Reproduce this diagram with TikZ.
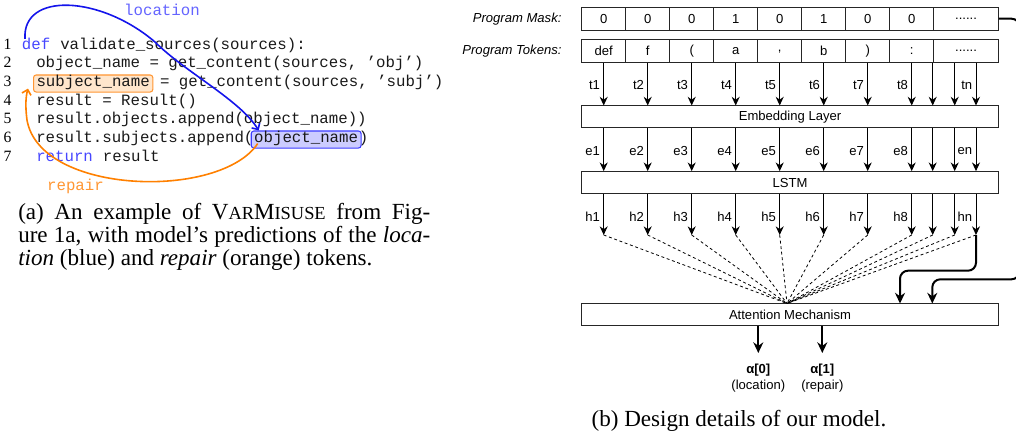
\documentclass[tikz,border=0pt]{standalone}
\usepackage{fontspec}
\setmainfont{Liberation Serif}
\newfontfamily\hvfont{Liberation Sans}
\newfontfamily\courfont{Liberation Mono}
\usetikzlibrary{arrows.meta,calc}
\definecolor{kwblue}{RGB}{70,70,255}
\definecolor{loclab}{RGB}{100,100,255}
\definecolor{locarrow}{RGB}{20,20,235}
\definecolor{reparrow}{RGB}{255,128,0}
\definecolor{replab}{RGB}{255,150,50}
\definecolor{subjfill}{RGB}{255,230,204}
\definecolor{subjdraw}{RGB}{255,150,50}
\definecolor{objfill}{RGB}{204,204,255}
\definecolor{objdraw}{RGB}{60,60,255}
\begin{document}
\begin{tikzpicture}[x=0.75pt,y=-0.75pt,
 code/.style={inner sep=0pt, anchor=base west, text=black!90, font=\courfont\fontsize{11.8}{14}\selectfont},
 lnum/.style={inner sep=0pt, anchor=base, font=\fontsize{11.8}{14}\selectfont},
 hl/.style={code, inner xsep=2.25pt, inner ysep=1.5pt, text height=7pt, text depth=2.8pt, rounded corners=2pt, line width=0.8pt},
 cell/.style={draw=black!85, line width=0.75pt, minimum width=33pt, minimum height=17pt, inner sep=0pt, font=\hvfont\fontsize{9.8}{12}\selectfont},
 layer/.style={draw=black!85, line width=0.75pt, minimum width=312.45pt, minimum height=16.3pt, inner sep=0pt, font=\hvfont\fontsize{9.8}{12}\selectfont},
 lab/.style={inner sep=0pt, anchor=east, font=\hvfont\fontsize{9.8}{12}\selectfont},
 rowlab/.style={inner sep=0pt, anchor=east, font=\hvfont\itshape\fontsize{9.8}{12}\selectfont},
 outlab/.style={inner sep=0pt, anchor=center, font=\hvfont\fontsize{9.8}{12}\selectfont},
 arr/.style={line width=0.75pt, -{Stealth[length=6.5pt,width=6pt]}},
 bigarr/.style={line width=1.5pt, rounded corners=6pt, -{Stealth[length=8pt,width=7.5pt]}},
 attline/.style={dash pattern=on 2.2pt off 2pt, line width=0.6pt},
 capt/.style={inner sep=0pt, font=\fontsize{17.3}{17.25}\selectfont},
 predarr/.style={line width=1.2pt, -{Straight Barb[length=3.5pt,width=7pt]}}
]
\useasboundingbox (0,0) rectangle (1016,433);
\clip (0,0) rectangle (1016,433);

% ---------------- code (a) ----------------
\node[lnum] (n1) at (7.5,49) {1};
\node[lnum] (n2) at (7.5,67.7) {2};
\node[lnum] (n3) at (7.5,86.3) {3};
\node[lnum] (n4) at (7.5,105) {4};
\node[lnum] (n5) at (7.5,123.7) {5};
\node[lnum] (n6) at (7.5,142.3) {6};
\node[lnum] (n7) at (7.5,161) {7};

\node[code, text=kwblue] (kwdef) at (21.7,49) {def};
\node[code] (l1) at (kwdef.base east) {\ validate\_sources(sources):};
\node[code] (l2) at (36,67.7) {object\_name = get\_content(sources, ’obj’)};
\node[hl, fill=subjfill, draw=subjdraw] (subjbox) at (33,86.3) {subject\_name};
\node[code] (l3) at ([xshift=-2.25pt]subjbox.base east) {\ = get\_content(sources, ’subj’)};
\node[code] (l4) at (36,105) {result = Result()};
\node[code] (l5) at (36,123.7) {result.objects.append(object\_name))};
\node[code] (l6) at (36,142.3) {result.subjects.append(};
\node[hl, fill=objfill, draw=objdraw] (objbox) at ([xshift=-2.25pt]l6.base east) {object\_name};
\node[code] (l6b) at ([xshift=-2.25pt]objbox.base east) {)};
\node[code, text=kwblue] (kwret) at (36,161) {return};
\node[code] (l7) at (kwret.base east) {\ result};

\node[code, anchor=center, text=loclab] (loclabel) at (162,9.5) {location};
\node[code, anchor=center, text=replab] (replabel) at (75.5,186.5) {repair};

\coordinate (bstart) at ($(kwdef.north west)+(3.3,1.5)$);
\coordinate (bend) at ($(objbox.north west)+(8,0)$);
\draw[predarr, locarrow] (bstart) .. controls (22,-8) and (100,-5) .. (155,42)
   .. controls (185,72) and (240,100) .. (bend);
\coordinate (ostart) at ($(objbox.south west)+(7,-5)$);
\coordinate (oend) at ($(subjbox.south west)+(-5,-4)$);
\draw[predarr, reparrow] (ostart) .. controls (220,200) and (40,195) .. (27,120)
   .. controls (25,105) and (26,96) .. (oend);

% caption (a)
\node[capt, anchor=base west] (capa1) at (18,219.5) {\makebox[309pt][s]{(a) An example of V{\fontsize{13.8}{14}\selectfont AR}M{\fontsize{13.8}{14}\selectfont ISUSE} from Fig-}};
\node[capt, anchor=base west] (capa2) at (18,242.8) {\makebox[309pt][s]{ure 1a, with model’s predictions of the \textit{loca-}}};
\node[capt, anchor=base west] (capa3) at (18,265.6) {\textit{tion} (blue) and \textit{repair} (orange) tokens.};

% ---------------- model (b) ----------------
\node[rowlab] (masklab) at (561.7,18.7) {Program Mask:};
\node[rowlab] (toklab) at (561.7,51.2) {Program Tokens:};

\foreach \v [count=\i from 0] in {0,0,0,1,0,1,0,0}
  \node[cell] (m\i) at ({603.7+44*\i},18.7) {\v};
\node[cell, minimum width=48.45pt] (m8) at (966,18.7) {......};

\node[cell] (t0) at (603.7,51.2) {def};
\node[cell] (t1) at (647.7,51.2) {f};
\node[cell] (t2) at (691.7,51.2) {(};
\node[cell] (t3) at (735.7,51.2) {a};
\node[cell] (t4) at (779.7,51.2) {,};
\node[cell] (t5) at (823.7,51.2) {b};
\node[cell] (t6) at (867.7,51.2) {)};
\node[cell] (t7) at (911.7,51.2) {:};
\node[cell, minimum width=48.45pt] (t8) at (966,51.2) {......};

\node[layer] (emb) at (790,116.85) {Embedding Layer};
\node[layer] (lstm) at (790,182.5) {LSTM};
\node[layer] (att) at (790,314.85) {Attention Mechanism};

\coordinate (conv) at ($(att.north)+(-3,0)$);
\foreach \x [count=\i] in {603.7,647.7,691.7,735.7,779.7,823.7,867.7,911.7,932.7,954.7,976} {
  \coordinate (c\i) at (\x,0);
  \coordinate (hend\i) at (\x,235);
  \draw[arr] (c\i |- t0.south) -- (c\i |- emb.north);
  \draw[arr] (c\i |- emb.south) -- (c\i |- lstm.north);
  \draw[arr] (c\i |- lstm.south) -- (hend\i);
  \draw[attline] (hend\i) -- (conv);
}
\foreach \x/\l in {603.7/1,647.7/2,691.7/3,735.7/4,779.7/5,823.7/6,867.7/7,911.7/8,976/n} {
  \node[lab] at (\x-3.5,85) {t\l};
  \node[lab] at (\x-3.5,151) {e\l};
  \node[lab] at (\x-3.5,216.7) {h\l};
}

\coordinate (in1) at (900,0);
\coordinate (in2) at (932.3,0);
\coordinate (rail) at (1019.5,279.3);
\draw[bigarr] (hend11) -- ++(0,35.7) -| (in1 |- att.north);
\draw[bigarr] (m8.east) -| (rail) -| (in2 |- att.north);

\coordinate (o1) at (758.3,353);
\coordinate (o2) at (822.3,353);
\draw[bigarr] (o1 |- att.south) -- (o1);
\draw[bigarr] (o2 |- att.south) -- (o2);
\node[outlab] (a0) at (758.3,369.7) {\textbf{α[0]}};
\node[outlab] (a0t) at (758.3,385.7) {(location)};
\node[outlab] (a1) at (822.3,369.7) {\textbf{α[1]}};
\node[outlab] (a1t) at (822.3,385.7) {(repair)};

\node[capt, anchor=base] (capb) at (739,426) {(b) Design details of our model.};
\end{tikzpicture}
\end{document}
